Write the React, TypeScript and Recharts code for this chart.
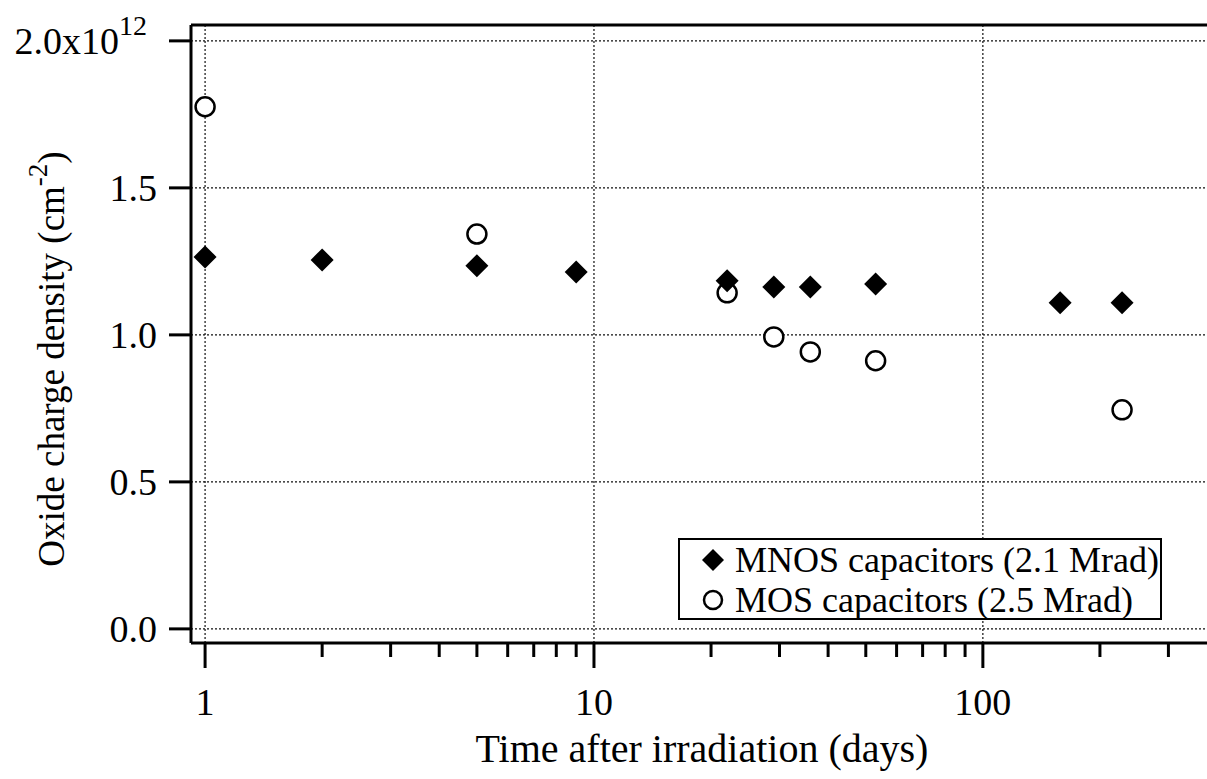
import React from 'react';
import { ScatterChart, Scatter, XAxis, YAxis, CartesianGrid, ReferenceLine, Legend, Label } from 'recharts';

// MNOS capacitors (2.1 Mrad)
const mnosDays = [1, 2, 5, 9, 22, 29, 36, 53, 158, 228];
const mnosDensity = [1.265, 1.255, 1.235, 1.214, 1.184, 1.163, 1.163, 1.173, 1.109, 1.109];

// MOS capacitors (2.5 Mrad)
const mosDays = [1, 5, 22, 29, 36, 53, 228];
const mosDensity = [1.776, 1.343, 1.143, 0.993, 0.942, 0.912, 0.745];

const yTicks = [0, 0.5, 1, 1.5, 2];
const xMajorTicks = [1, 10, 100];
const xMinorTicks = [2, 3, 4, 5, 6, 7, 8, 9, 20, 30, 40, 50, 60, 70, 80, 90, 200, 300];

const seriesNames = ['MNOS capacitors (2.1 Mrad)', 'MOS capacitors (2.5 Mrad)'];

const xDomain = [0.92, 377];
const yDomain = [-0.048, 2.054];

const FONT = '"Liberation Serif", "Times New Roman", serif';

const mnosData = mnosDays.map((d, i) => ({ x: d, y: mnosDensity[i] }));
const mosData = mosDays.map((d, i) => ({ x: d, y: mosDensity[i] }));
const allXTicks = [...xMajorTicks, ...xMinorTicks].sort((a, b) => a - b);

const Diamond = (props: any) => {
    const { cx, cy } = props;
    const r = 11.5;
    return <polygon points={`${cx},${cy - r} ${cx + r},${cy} ${cx},${cy + r} ${cx - r},${cy}`} fill="#000" />;
};

const OpenCircle = (props: any) => {
    const { cx, cy } = props;
    return <circle cx={cx} cy={cy} r={9.5} fill="#fff" stroke="#000" strokeWidth={2.5} />;
};

const XTick = (props: any) => {
    const { x, y, payload } = props;
    const major = xMajorTicks.includes(payload.value);
    return (
        <g>
            <line x1={x} x2={x} y1={y} y2={y + (major ? 25 : 14)} stroke="#000" strokeWidth={3} />
            {major && (
                <text x={x} y={y + 72} textAnchor="middle" fontSize={38} fontFamily={FONT} fill="#000">
                    {payload.value}
                </text>
            )}
        </g>
    );
};

const YTick = (props: any) => {
    const { x, y, payload } = props;
    const v = payload.value;
    if (v === 2) {
        return (
            <text x={x - 10} y={y + 13} textAnchor="end" fontSize={38} fontFamily={FONT} fill="#000">
                2.0x10<tspan fontSize={28} dy={-19}>12</tspan>
            </text>
        );
    }
    return (
        <text x={x} y={y + 13} textAnchor="end" fontSize={38} fontFamily={FONT} fill="#000">
            {v.toFixed(1)}
        </text>
    );
};

const YTitle = () => {
    const cx = 64;
    const cy = 359;
    return (
        <text x={cx} y={cy} transform={`rotate(-90, ${cx}, ${cy})`} textAnchor="middle" fontSize={37} fontFamily={FONT} fill="#000">
            Oxide charge density (cm<tspan fontSize={27} dy={-17}>-2</tspan><tspan dy={17}>)</tspan>
        </text>
    );
};

const XTitle = (props: any) => {
    const { viewBox } = props;
    return (
        <text x={viewBox.x + viewBox.width / 2 + 3} y={762} textAnchor="middle" fontSize={40} fontFamily={FONT} fill="#000">
            Time after irradiation (days)
        </text>
    );
};

const LegendBox = () => (
    <div style={{ border: '2px solid #000', background: '#fff', fontFamily: FONT, fontSize: 36, lineHeight: '42px', boxSizing: 'border-box', height: 82 }}>
        {seriesNames.map((name, i) => (
            <div key={name} style={{ display: 'flex', alignItems: 'center', height: 40, whiteSpace: 'nowrap' }}>
                <svg width={50} height={40}>
                    {i === 0
                        ? <polygon points="33,9 44,20 33,31 22,20" fill="#000" />
                        : <circle cx={33} cy={20} r={9} fill="#fff" stroke="#000" strokeWidth={2.5} />}
                </svg>
                <span style={{ marginLeft: 5 }}>{name}</span>
            </div>
        ))}
    </div>
);

export default function App() {
    return (
        <div style={{ position: 'absolute', left: 0, top: 0, background: '#fff' }}>
            <ScatterChart width={1207} height={779} margin={{ top: 25, right: 0, bottom: 0, left: 0 }}>
                <CartesianGrid vertical={false} stroke="#111" strokeDasharray="2 2" strokeWidth={1.2} />
                {xMajorTicks.map((t) => (
                    <ReferenceLine key={t} x={t} stroke="#111" strokeDasharray="2 2" strokeWidth={1.2} />
                ))}
                <XAxis
                    type="number"
                    dataKey="x"
                    scale="log"
                    domain={xDomain}
                    allowDataOverflow
                    ticks={allXTicks}
                    interval={0}
                    tick={<XTick />}
                    tickLine={false}
                    tickSize={0}
                    tickMargin={0}
                    height={136}
                    axisLine={{ stroke: '#000', strokeWidth: 3 }}
                >
                    <Label content={<XTitle />} />
                </XAxis>
                <YAxis
                    type="number"
                    dataKey="y"
                    domain={yDomain}
                    allowDataOverflow
                    ticks={yTicks}
                    interval={0}
                    width={191}
                    tick={<YTick />}
                    tickSize={22}
                    tickMargin={12}
                    tickLine={{ stroke: '#000', strokeWidth: 3 }}
                    axisLine={{ stroke: '#000', strokeWidth: 3 }}
                >
                    <Label content={<YTitle />} />
                </YAxis>
                <ReferenceLine y={yDomain[1]} stroke="#000" strokeWidth={3} />
                <Scatter name={seriesNames[1]} data={mosData} shape={<OpenCircle />} isAnimationActive={false} />
                <Scatter name={seriesNames[0]} data={mnosData} shape={<Diamond />} isAnimationActive={false} />
                <Legend
                    layout="horizontal"
                    verticalAlign="middle"
                    align="center"
                    content={<LegendBox />}
                    wrapperStyle={{ left: 678, top: 538, width: 484, height: 82 }}
                />
            </ScatterChart>
        </div>
    );
}
